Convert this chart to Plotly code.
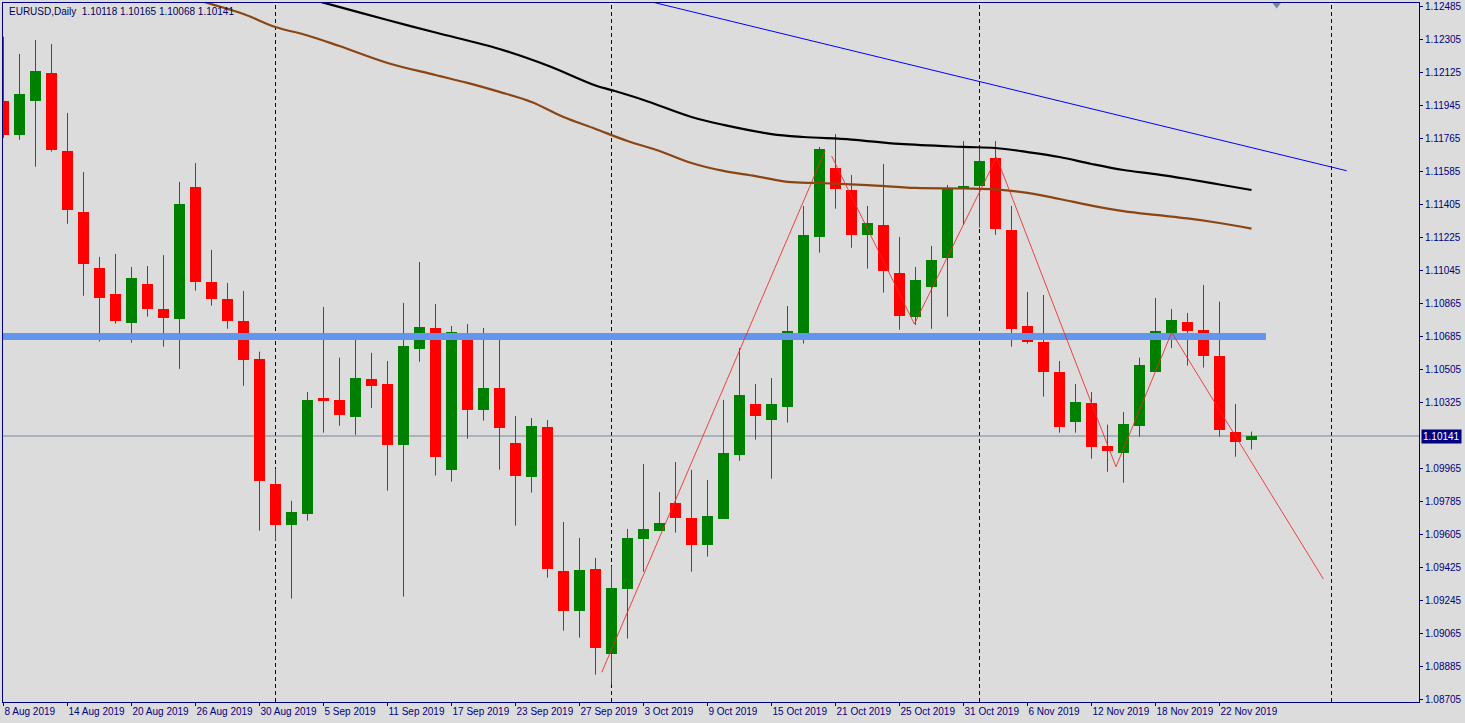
import plotly.graph_objects as go

# ---------------- data ----------------
tick_idx = list(range(0, 77, 4))
tick_labels = ["8 Aug 2019", "14 Aug 2019", "20 Aug 2019", "26 Aug 2019", "30 Aug 2019",
               "5 Sep 2019", "11 Sep 2019", "17 Sep 2019", "23 Sep 2019", "27 Sep 2019",
               "3 Oct 2019", "9 Oct 2019", "15 Oct 2019", "21 Oct 2019", "25 Oct 2019",
               "31 Oct 2019", "6 Nov 2019", "12 Nov 2019", "18 Nov 2019", "22 Nov 2019"]

opens = [1.11968, 1.11785, 1.11970, 1.12121, 1.11696, 1.11363, 1.11058, 1.10916, 1.10759, 1.10970,
         1.10834, 1.10781, 1.11499, 1.10981, 1.10889, 1.10768, 1.10561, 1.09879, 1.09657, 1.09717,
         1.10348, 1.10338, 1.10246, 1.10452, 1.10425, 1.10094, 1.10617, 1.10730, 1.09957, 1.10703,
         1.10285, 1.10403, 1.10103, 1.09919, 1.10190, 1.09405, 1.09188, 1.09416, 1.08954, 1.09308,
         1.09581, 1.09625, 1.09776, 1.09694, 1.09548, 1.09690, 1.10039, 1.10316, 1.10230, 1.10301,
         1.10705, 1.11228, 1.11603, 1.11483, 1.11239, 1.11292, 1.11030, 1.10792, 1.10956, 1.11114,
         1.11488, 1.11505, 1.11659, 1.11265, 1.10741, 1.10654, 1.10490, 1.10219, 1.10321, 1.10087,
         1.10050, 1.10197, 1.10492, 1.10705, 1.10763, 1.10719, 1.10578, 1.10163, 1.10118]
highs = [1.12319, 1.12225, 1.12301, 1.12279, 1.11903, 1.11581, 1.11118, 1.11134, 1.11063, 1.11068,
         1.11128, 1.11527, 1.11630, 1.11156, 1.10976, 1.10932, 1.10601, 1.09961, 1.09787, 1.10381,
         1.10845, 1.10568, 1.10681, 1.10595, 1.10550, 1.10867, 1.11090, 1.10861, 1.10741, 1.10752,
         1.10730, 1.10670, 1.10250, 1.10239, 1.10228, 1.09672, 1.09585, 1.09476, 1.09432, 1.09634,
         1.09988, 1.09836, 1.09999, 1.09956, 1.09901, 1.10338, 1.10621, 1.10425, 1.10457, 1.10850,
         1.11396, 1.11718, 1.11788, 1.11565, 1.11396, 1.11625, 1.11227, 1.11063, 1.11178, 1.11510,
         1.11750, 1.11723, 1.11750, 1.11396, 1.10927, 1.10910, 1.10550, 1.10425, 1.10381, 1.10203,
         1.10272, 1.10568, 1.10894, 1.10834, 1.10812, 1.10965, 1.10874, 1.10316, 1.10165]
lows = [1.11767, 1.11757, 1.11610, 1.11692, 1.11299, 1.10906, 1.10656, 1.10754, 1.10650, 1.10792,
        1.10628, 1.10507, 1.10934, 1.10852, 1.10726, 1.10415, 1.09625, 1.09570, 1.09254, 1.09679,
        1.10159, 1.10197, 1.10147, 1.10294, 1.09843, 1.09265, 1.10546, 1.09925, 1.09892, 1.10126,
        1.10225, 1.09957, 1.09652, 1.09832, 1.09368, 1.09079, 1.09041, 1.08839, 1.08785, 1.09036,
        1.09401, 1.09625, 1.09614, 1.09401, 1.09483, 1.09690, 1.10006, 1.10121, 1.09908, 1.10214,
        1.10645, 1.11141, 1.11381, 1.11168, 1.11054, 1.10923, 1.10721, 1.10747, 1.10726, 1.10792,
        1.11292, 1.11277, 1.11238, 1.10628, 1.10645, 1.10356, 1.10159, 1.10159, 1.10017, 1.09946,
        1.09886, 1.10137, 1.10492, 1.10620, 1.10525, 1.10514, 1.10137, 1.10028, 1.10068]
closes = [1.11785, 1.12007, 1.12132, 1.11703, 1.11375, 1.11081, 1.10896, 1.10768, 1.11003, 1.10836,
          1.10786, 1.11407, 1.10983, 1.10890, 1.10770, 1.10557, 1.09897, 1.09657, 1.09727, 1.10338,
          1.10334, 1.10257, 1.10457, 1.10415, 1.10094, 1.10632, 1.10736, 1.10028, 1.10708, 1.10285,
          1.10403, 1.10186, 1.09925, 1.10196, 1.09417, 1.09188, 1.09410, 1.08986, 1.09312, 1.09585,
          1.09634, 1.09667, 1.09696, 1.09548, 1.09705, 1.10048, 1.10365, 1.10252, 1.10316, 1.10714,
          1.11238, 1.11707, 1.11490, 1.11239, 1.11303, 1.11043, 1.10797, 1.10992, 1.11101, 1.11488,
          1.11505, 1.11641, 1.11272, 1.10725, 1.10656, 1.10492, 1.10192, 1.10327, 1.10083, 1.10061,
          1.10207, 1.10528, 1.10716, 1.10774, 1.10716, 1.10579, 1.10176, 1.10110, 1.10141]

ma_slow_idx = [19, 20, 24, 27, 31, 34, 37, 38, 40, 43, 45, 48, 50, 53, 56, 60, 62, 64, 66, 68,
               70, 72, 74, 76, 78]
ma_slow = [1.12528, 1.12505, 1.12410, 1.12342, 1.12252, 1.12162, 1.12053, 1.12028, 1.11974,
           1.11881, 1.11838, 1.11788, 1.11772, 1.11758, 1.11734, 1.11718, 1.11712, 1.11690,
           1.11663, 1.11625, 1.11592, 1.11570, 1.11543, 1.11513, 1.11483]

ma_fast_idx = [12, 13, 15, 17, 19, 21, 24, 27, 29, 31, 33, 35, 37, 39, 41, 43, 45, 47, 49, 51,
               54, 57, 60, 62, 64, 66, 68, 70, 72, 74, 76, 78]
ma_fast = [1.12523, 1.12497, 1.12443, 1.12372, 1.12326, 1.12268, 1.12176, 1.12110, 1.12067,
           1.12018, 1.11963, 1.11881, 1.11816, 1.11750, 1.11696, 1.11630, 1.11587, 1.11559,
           1.11527, 1.11521, 1.11510, 1.11494, 1.11491, 1.11486, 1.11467, 1.11434, 1.11398,
           1.11368, 1.11347, 1.11328, 1.11303, 1.11272]

trend_idx = [38, 83.95]
trend_val = [1.12562, 1.11588]

zig_a_idx = [37.39, 51.34]
zig_a_val = [1.08852, 1.11695]
zig_b_idx = [51.76, 56.93, 62.07, 69.53, 73.01, 82.49]
zig_b_val = [1.11668, 1.10752, 1.11661, 1.09973, 1.10706, 1.09361]

level_idx = [-1, 78.9]
level_val = [1.10684, 1.10684]

separators = [17, 38, 61, 83]
bid = 1.10141

y_ticks = [1.08705, 1.08885, 1.09065, 1.09245, 1.09425, 1.09605, 1.09785, 1.09965,
           1.10325, 1.10505, 1.10685, 1.10865, 1.11045, 1.11225, 1.11405, 1.11585,
           1.11765, 1.11945, 1.12125, 1.12305, 1.12485]

title_text = "EURUSD,Daily\u00a0\u00a01.10118 1.10165 1.10068 1.10141"

# ---------------- figure ----------------
NAVY = "#000080"
UP = "#008000"
DN = "#FF0000"
FONT = "Liberation Sans, Arial, sans-serif"

idx = list(range(len(opens)))
colors = [UP if c >= o else DN for o, c in zip(opens, closes)]
bases = [min(o, c) for o, c in zip(opens, closes)]
heights = [max(abs(c - o), 0.00003) for o, c in zip(opens, closes)]

fig = go.Figure()

for col in (UP, DN):
    wx, wy = [], []
    for i in idx:
        if colors[i] == col:
            wx += [i, i, None]
            wy += [lows[i], highs[i], None]
    fig.add_trace(go.Scatter(x=wx, y=wy, mode="lines", line=dict(color=col, width=1),
                             hoverinfo="skip"))

fig.add_trace(go.Bar(x=idx, y=heights, base=bases, width=0.6875,
                     marker=dict(color=colors, line=dict(width=0)), hoverinfo="skip"))

fig.add_trace(go.Scatter(x=ma_slow_idx, y=ma_slow, mode="lines", line=dict(color="#000000", width=2.2),
                         line_shape="spline", hoverinfo="skip"))
fig.add_trace(go.Scatter(x=ma_fast_idx, y=ma_fast, mode="lines", line=dict(color="#8B4513", width=2.2),
                         line_shape="spline", hoverinfo="skip"))
fig.add_trace(go.Scatter(x=level_idx, y=level_val, mode="lines", line=dict(color="#6495ED", width=7),
                         hoverinfo="skip"))
fig.add_trace(go.Scatter(x=trend_idx, y=trend_val, mode="lines", line=dict(color="#0000FF", width=1),
                         hoverinfo="skip"))
for zx, zy in ((zig_a_idx, zig_a_val), (zig_b_idx, zig_b_val)):
    fig.add_trace(go.Scatter(x=zx, y=zy, mode="lines", line=dict(color="rgba(240,40,40,0.85)", width=1),
                             hoverinfo="skip"))

fig.add_trace(go.Scatter(x=[79.575], y=[1.12495], mode="markers",
                         marker=dict(symbol="triangle-down", size=8, color="#778899"),
                         cliponaxis=False, hoverinfo="skip"))

shapes = []
for s in separators:
    shapes.append(dict(type="line", xref="x", yref="paper", x0=s, x1=s, y0=0, y1=1,
                       line=dict(color="#000060", width=1, dash="4px,3px"), layer="below"))
shapes.append(dict(type="line", xref="paper", yref="y", x0=0, x1=1, y0=bid, y1=bid,
                   line=dict(color="#778899", width=1), layer="below"))

annotations = [
    dict(text=title_text, xref="paper", yref="paper", x=0.0028, y=0.9885, xanchor="left",
         yanchor="middle", showarrow=False, font=dict(family=FONT, size=10, color="#000060")),
    dict(text="1.10141", xref="paper", yref="y", x=1, y=bid, xanchor="left", yanchor="middle",
         xshift=2, showarrow=False, bgcolor=NAVY, borderpad=1,
         font=dict(family=FONT, size=10, color="#FFFFFF")),
]

fig.update_layout(
    width=1465, height=723,
    margin=dict(l=3, r=46, t=3, b=21, autoexpand=False),
    paper_bgcolor="#DCDCDC", plot_bgcolor="#DCDCDC",
    showlegend=False, bargap=0,
    shapes=shapes, annotations=annotations,
    hovermode=False,
    xaxis=dict(range=[-0.03125, 88.46875], tickmode="array", tickvals=tick_idx, ticktext=tick_labels,
               ticks="outside", ticklen=3, tickcolor=NAVY, showgrid=False, zeroline=False,
               showline=True, linecolor=NAVY, linewidth=1, mirror=True,
               ticklabelposition="outside right", tickangle=0, automargin=False,
               tickfont=dict(family=FONT, size=10, color=NAVY), fixedrange=True),
    yaxis=dict(range=[1.08690, 1.12503], side="right", tickmode="array", tickvals=y_ticks,
               tickformat=".5f", ticks="outside", ticklen=3, tickcolor=NAVY, showgrid=False,
               zeroline=False, showline=True, linecolor=NAVY, linewidth=1, mirror=True,
               automargin=False,
               tickfont=dict(family=FONT, size=10, color=NAVY), fixedrange=True),
)

fig.write_html("out.html", config={"displayModeBar": False},
               post_script="document.body.style.margin='0';document.body.style.background='#DCDCDC';")
